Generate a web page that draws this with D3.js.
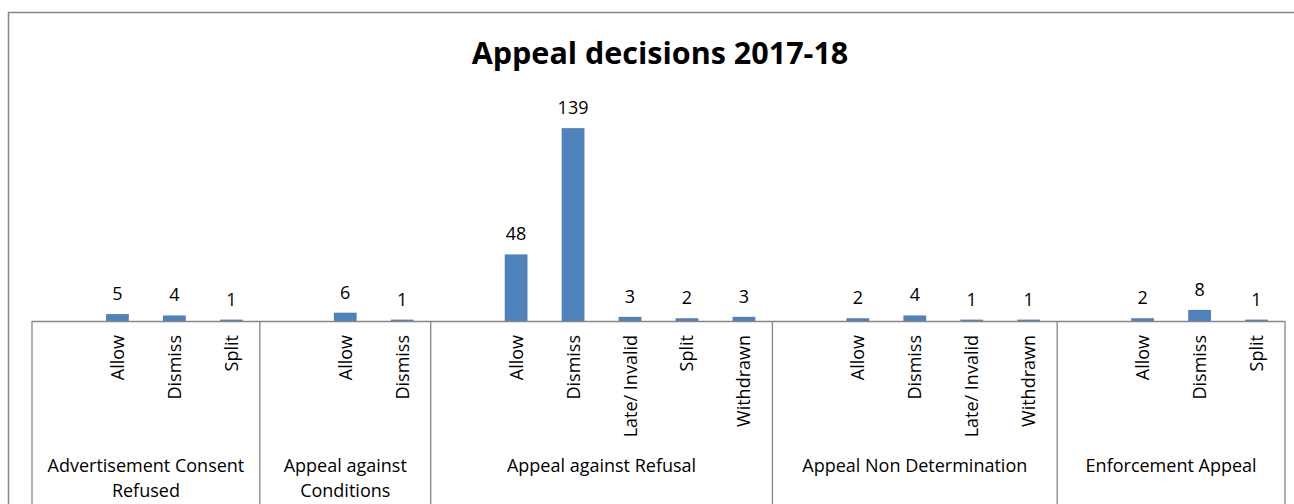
<!DOCTYPE html>
<html>
<head>
<meta charset="utf-8">
<script src="https://cdn.jsdelivr.net/npm/d3@7"></script>
<style>
  body { margin: 0; background: #fff; }
  svg text { font-family: "Open Sans", "Noto Sans", sans-serif; fill: #000; }
</style>
</head>
<body>
<svg id="chart" width="1294" height="504"></svg>
<script>
// Groups (outer axis level) and their decisions. Each pivot group starts with an empty slot.
var groups = ['Advertisement Consent\nRefused', 'Appeal against\nConditions', 'Appeal against Refusal', 'Appeal Non Determination', 'Enforcement Appeal'];
var decisions = [
    ['', 'Allow', 'Dismiss', 'Split'],
    ['', 'Allow', 'Dismiss'],
    ['', 'Allow', 'Dismiss', 'Late/ Invalid', 'Split', 'Withdrawn'],
    ['', 'Allow', 'Dismiss', 'Late/ Invalid', 'Withdrawn'],
    ['', 'Allow', 'Dismiss', 'Split']
];
var counts = [
    [null, 5, 4, 1],
    [null, 6, 1],
    [null, 48, 139, 3, 2, 3],
    [null, 2, 4, 1, 1],
    [null, 2, 8, 1]
];
var yMax = 160;

var svg = d3.select('#chart'),
    left = 32, right = 1285, baseY = 321, topY = 99,
    axisColor = '#868686', barColor = '#4F81BD',
    fontSize = '18px';

// flatten slots
var slots = [];
groups.forEach(function (g, gi) {
    decisions[gi].forEach(function (d, di) {
        slots.push({ key: gi + '|' + di, group: gi, label: d, value: counts[gi][di] });
    });
});

var x = d3.scaleBand().domain(slots.map(function (s) { return s.key; }))
    .range([left, right]).paddingInner(0.6).paddingOuter(0.3);
var step = x.step();
var y = d3.scaleLinear().domain([0, yMax]).range([baseY, topY]);

// outer chart border (left + top only visible)
svg.append('path')
    .attr('d', 'M8.5,504 V12.5 H1294')
    .attr('fill', 'none').attr('stroke', axisColor).attr('stroke-width', 1.5);

svg.append('text')
    .attr('x', 660).attr('y', 63.5)
    .attr('text-anchor', 'middle')
    .style('font-size', '30.5px').style('font-weight', 'bold')
    .text('Appeal decisions 2017-18');

var bars = slots.filter(function (s) { return s.value != null; });

svg.selectAll('rect.bar').data(bars).enter().append('rect')
    .attr('class', 'bar')
    .attr('x', function (d) { return x(d.key); })
    .attr('width', x.bandwidth())
    .attr('y', function (d) { return y(d.value); })
    .attr('height', function (d) { return baseY - y(d.value); })
    .attr('fill', barColor);

svg.selectAll('text.val').data(bars).enter().append('text')
    .attr('class', 'val')
    .attr('x', function (d) { return x(d.key) + x.bandwidth() / 2; })
    .attr('y', function (d) { return y(d.value) - 14; })
    .attr('text-anchor', 'middle')
    .style('font-size', fontSize)
    .text(function (d) { return d.value; });

// category axis
svg.append('line')
    .attr('x1', left).attr('x2', right).attr('y1', baseY + 0.5).attr('y2', baseY + 0.5)
    .attr('stroke', axisColor).attr('stroke-width', 1.3);

svg.selectAll('text.sub').data(slots.filter(function (s) { return s.label; })).enter().append('text')
    .attr('class', 'sub')
    .attr('transform', function (d) {
        return 'translate(' + (x(d.key) + x.bandwidth() / 2 + 6.5) + ',335) rotate(-90)';
    })
    .attr('text-anchor', 'end')
    .style('font-size', fontSize)
    .text(function (d) { return d.label; });

// group separators and labels
var start = 0;
groups.forEach(function (g, gi) {
    var n = decisions[gi].length,
        x0 = left + start * step,
        x1 = left + (start + n) * step;
    if (gi === 0) {
        svg.append('line').attr('x1', x0).attr('x2', x0).attr('y1', baseY).attr('y2', 504)
            .attr('stroke', axisColor).attr('stroke-width', 1.3);
    }
    svg.append('line').attr('x1', x1).attr('x2', x1).attr('y1', baseY).attr('y2', 504)
        .attr('stroke', axisColor).attr('stroke-width', 1.3);
    var t = svg.append('text').attr('text-anchor', 'middle').style('font-size', fontSize);
    g.split('\n').forEach(function (line, li) {
        t.append('tspan').attr('x', (x0 + x1) / 2).attr('y', 472 + li * 25).text(line);
    });
    start += n;
});
</script>
</body>
</html>
